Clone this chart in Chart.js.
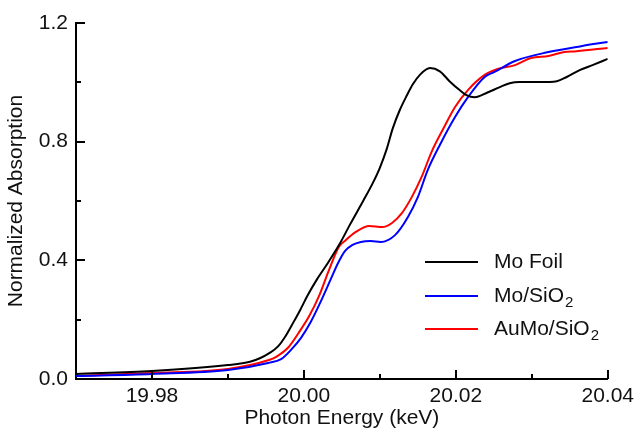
<!DOCTYPE html>
<html>
<head>
<meta charset="utf-8">
<script src="https://cdn.jsdelivr.net/npm/chart.js@4.4.0/dist/chart.umd.min.js"></script>
<style>
  html, body { margin: 0; padding: 0; background: #fff; }
  #wrap { width: 639px; height: 438px; }
</style>
</head>
<body>
<div id="wrap"><canvas id="myChart"></canvas></div>
<script>
// values (keV, normalized absorption)
const foilEnergy = [19.970, 19.980, 19.990, 19.9929, 19.9942, 19.9955, 19.9966, 19.9976, 19.9986, 19.9995, 20.0005, 20.0017, 20.0030, 20.0047, 20.0061, 20.0078, 20.0091, 20.0100, 20.0109, 20.0117, 20.0126, 20.0136, 20.0143, 20.0153, 20.0166, 20.0179, 20.0192, 20.0205, 20.0214, 20.0225, 20.0241, 20.0258, 20.0271, 20.0284, 20.0311, 20.0333, 20.0346, 20.0363, 20.0380, 20.0400]
const foilAbs = [0.017, 0.027, 0.047, 0.058, 0.070, 0.088, 0.110, 0.145, 0.190, 0.232, 0.282, 0.335, 0.385, 0.455, 0.522, 0.600, 0.662, 0.712, 0.775, 0.845, 0.905, 0.958, 0.992, 1.026, 1.048, 1.037, 1.003, 0.974, 0.957, 0.950, 0.965, 0.984, 0.997, 1.001, 1.001, 1.004, 1.018, 1.041, 1.058, 1.079]

const moEnergy = [19.970, 19.980, 19.990, 19.9953, 19.9970, 19.9983, 19.9996, 20.0009, 20.0022, 20.0036, 20.0045, 20.0054, 20.0064, 20.0075, 20.0088, 20.0101, 20.0120, 20.0137, 20.0150, 20.0163, 20.0179, 20.0199, 20.0216, 20.0238, 20.0251, 20.0278, 20.0322, 20.0365, 20.0400]
const moAbs = [0.010, 0.017, 0.030, 0.054, 0.067, 0.098, 0.138, 0.192, 0.260, 0.340, 0.391, 0.431, 0.452, 0.462, 0.465, 0.462, 0.485, 0.546, 0.613, 0.704, 0.789, 0.883, 0.950, 1.018, 1.035, 1.072, 1.102, 1.122, 1.136]

const aumoEnergy = [19.970, 19.980, 19.990, 19.9954, 19.9963, 19.9980, 19.9993, 20.0007, 20.0020, 20.0033, 20.0046, 20.0055, 20.0068, 20.0086, 20.0103, 20.0116, 20.0129, 20.0142, 20.0155, 20.0168, 20.0184, 20.0199, 20.0216, 20.0238, 20.0255, 20.0278, 20.0299, 20.0322, 20.0343, 20.0359, 20.0400]
const aumoAbs = [0.010, 0.020, 0.034, 0.064, 0.074, 0.108, 0.155, 0.212, 0.280, 0.367, 0.445, 0.468, 0.495, 0.516, 0.512, 0.526, 0.559, 0.613, 0.681, 0.765, 0.846, 0.917, 0.974, 1.025, 1.045, 1.058, 1.082, 1.089, 1.102, 1.105, 1.116]

const xMajor = [19.98, 20.00, 20.02, 20.04]
const xMinor = [19.99, 20.01, 20.03]
const yMajor = [0.0, 0.4, 0.8, 1.2]
const yMinor = [0.2, 0.6, 1.0]

const seriesNames = ['Mo Foil', 'Mo/SiO|2', 'AuMo/SiO|2']   // "|" marks a subscript
const seriesColors = ['#000000', '#0000ff', '#ff0000']

const FONT = '"Liberation Sans", Arial, sans-serif'

const toPoints = (xs, ys) => xs.map((x, i) => ({x: x, y: ys[i]}))

// inward tick marks, like the original plot
const inwardTicks = {
    id: 'inwardTicks',
    afterDraw(chart) {
        const {ctx, chartArea} = chart
        const x = chart.scales.x, y = chart.scales.y
        ctx.save()
        ctx.strokeStyle = '#000'
        ctx.lineWidth = 2
        ctx.beginPath()
        const tickX = (v, len) => {
            const px = Math.round(x.getPixelForValue(v))
            ctx.moveTo(px, chartArea.bottom)
            ctx.lineTo(px, chartArea.bottom - len)
        }
        const tickY = (v, len) => {
            const py = Math.round(y.getPixelForValue(v))
            ctx.moveTo(chartArea.left, py)
            ctx.lineTo(chartArea.left + len, py)
        }
        xMajor.forEach(v => tickX(v, 9))
        xMinor.forEach(v => tickX(v, 5))
        yMajor.forEach(v => tickY(v, 9))
        yMinor.forEach(v => tickY(v, 5))
        ctx.stroke()
        ctx.restore()
    }
}

// legend inside the plot, with subscript 2
const subLegend = {
    id: 'subLegend',
    afterDraw(chart) {
        const {ctx} = chart
        const lx0 = 425, lx1 = 478, tx = 494
        const rows = [262, 296, 329]
        ctx.save()
        ctx.textBaseline = 'middle'
        seriesNames.forEach((name, i) => {
            const yy = rows[i]
            ctx.strokeStyle = seriesColors[i]
            ctx.lineWidth = 2
            ctx.beginPath()
            ctx.moveTo(lx0, yy)
            ctx.lineTo(lx1, yy)
            ctx.stroke()
            ctx.fillStyle = '#111'
            const parts = name.split('|')
            ctx.font = '21px ' + FONT
            ctx.fillText(parts[0], tx, yy)
            if (parts[1]) {
                const w = ctx.measureText(parts[0]).width
                ctx.font = '15px ' + FONT
                ctx.fillText(parts[1], tx + w + 1, yy + 7)
            }
        })
        ctx.restore()
    }
}

const ctx = document.getElementById('myChart')
const myChart = new Chart(ctx, {
    type: 'line',
    data: {
        datasets: [
            {label: 'Mo Foil', data: toPoints(foilEnergy, foilAbs)},
            {label: 'Mo/SiO2', data: toPoints(moEnergy, moAbs)},
            {label: 'AuMo/SiO2', data: toPoints(aumoEnergy, aumoAbs)}
        ].map((d, i) => Object.assign(d, {
            borderColor: seriesColors[i],
            backgroundColor: seriesColors[i],
            borderWidth: 2,
            pointRadius: 0,
            fill: false,
            cubicInterpolationMode: 'monotone'
        }))
    },
    options: {
        responsive: true,
        maintainAspectRatio: false,
        animation: false,
        layout: {padding: {top: 23, right: 30, left: 0, bottom: 0}},
        plugins: {
            legend: {display: false},
            tooltip: {enabled: false}
        },
        scales: {
            x: {
                type: 'linear',
                min: 19.97,
                max: 20.04,
                afterBuildTicks: s => { s.ticks = xMajor.map(v => ({value: v})) },
                afterFit: s => { s.height = 59 },
                grid: {display: false, drawTicks: false},
                border: {display: true, color: '#000', width: 2},
                ticks: {
                    padding: 5,
                    color: '#111',
                    font: {family: FONT, size: 21},
                    callback: v => Number(v).toFixed(2),
                    maxRotation: 0,
                    autoSkip: false
                },
                title: {
                    display: true,
                    text: 'Photon Energy (keV)',
                    color: '#111',
                    font: {family: FONT, size: 21},
                    padding: {top: 0, bottom: 7}
                }
            },
            y: {
                type: 'linear',
                min: 0,
                max: 1.2,
                afterBuildTicks: s => { s.ticks = yMajor.map(v => ({value: v})) },
                afterFit: s => { s.width = 76 },
                grid: {display: false, drawTicks: false},
                border: {display: true, color: '#000', width: 2},
                ticks: {
                    padding: 8,
                    color: '#111',
                    font: {family: FONT, size: 21},
                    callback: v => Number(v).toFixed(1)
                },
                title: {
                    display: true,
                    text: 'Normalized Absorption',
                    color: '#111',
                    font: {family: FONT, size: 21},
                    padding: {top: 4, bottom: 0}
                }
            }
        }
    },
    plugins: [inwardTicks, subLegend]
})
</script>
</body>
</html>
